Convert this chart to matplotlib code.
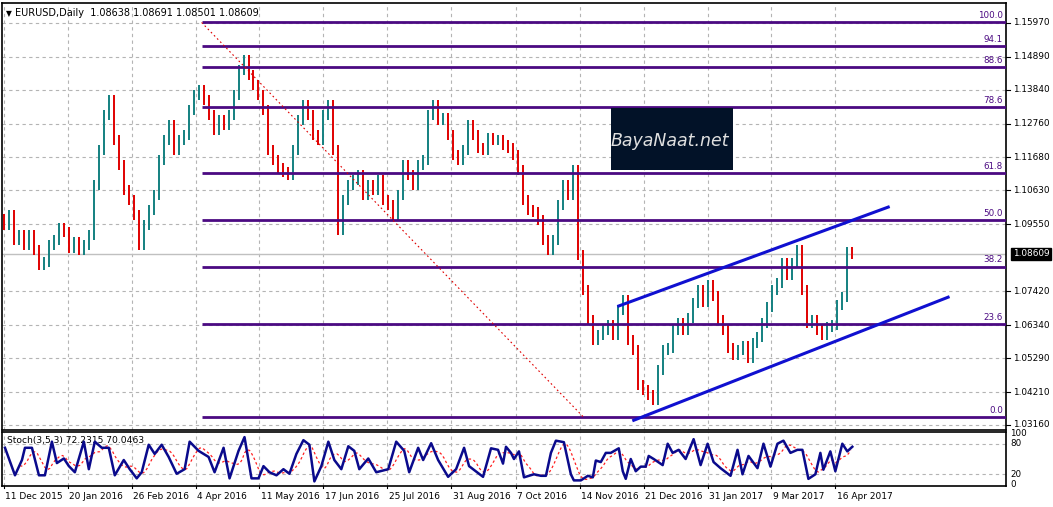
import matplotlib
matplotlib.use("Agg")
import matplotlib.pyplot as plt
import numpy as np
from matplotlib.patches import Rectangle

closes = [1.0953,1.0985,1.0905,1.0921,1.0889,1.0921,1.0873,1.0825,1.0835,1.0889,
1.0905,1.0943,1.0931,1.0880,1.0899,1.0873,1.0889,1.0921,1.1080,1.1192,
1.1303,1.1351,1.1224,1.1144,1.1064,1.1033,1.0985,1.0889,1.0953,1.1001,
1.1049,1.1160,1.1224,1.1272,1.1192,1.1224,1.1240,1.1319,1.1367,1.1383,
1.1351,1.1303,1.1256,1.1288,1.1272,1.1303,1.1367,1.1447,1.1479,1.1431,
1.1399,1.1367,1.1319,1.1192,1.1160,1.1135,1.1122,1.1112,1.1192,1.1288,
1.1335,1.1303,1.1240,1.1224,1.1303,1.1335,1.1192,1.0937,1.1033,1.1080,
1.1096,1.1112,1.1049,1.1080,1.1064,1.1096,1.1033,1.1017,1.0985,1.1049,
1.1144,1.1112,1.1080,1.1144,1.1160,1.1303,1.1335,1.1288,1.1294,1.1240,
1.1176,1.1160,1.1192,1.1272,1.1240,1.1198,1.1192,1.1230,1.1224,1.1224,
1.1208,1.1198,1.1176,1.1128,1.1033,1.1001,1.0994,1.0969,1.0905,1.0873,
1.0905,1.1017,1.1080,1.1049,1.1128,1.0857,1.0746,1.0650,1.0586,1.0602,
1.0618,1.0634,1.0602,1.0682,1.0714,1.0586,1.0555,1.0443,1.0427,1.0411,
1.0395,1.0491,1.0555,1.0561,1.0618,1.0641,1.0618,1.0657,1.0704,1.0746,
1.0708,1.0762,1.0727,1.0650,1.0618,1.0561,1.0539,1.0555,1.0570,1.0529,
1.0577,1.0596,1.0641,1.0692,1.0746,1.0768,1.0832,1.0794,1.0832,1.0873,
1.0746,1.0641,1.0650,1.0618,1.0602,1.0628,1.0634,1.0698,1.0723,1.0867,
1.08609]
price_ticks = [1.15970,1.14890,1.13840,1.12760,1.11680,1.10630,1.09550,
               1.07420,1.06340,1.05290,1.04210,1.03160]
last_price = 1.08609
fib_low, fib_high = 1.0340, 1.1598
fib_levels = [100.0, 94.1, 88.6, 78.6, 61.8, 50.0, 38.2, 23.6, 0.0]
fib_start_bar = 39.6
diag = [(39.6, 1.1598), (116.2, 1.0340)]
channel_upper = [(123.2, 1.0695), (177.2, 1.1010)]
channel_lower = [(126.2, 1.0331), (189.2, 1.0723)]
date_bars = [0, 12.8, 25.6, 38.4, 51.2, 64, 76.8, 89.6, 102.6, 115.4, 128.2, 141, 153.8, 166.6]
date_labels = ["11 Dec 2015","20 Jan 2016","26 Feb 2016","4 Apr 2016","11 May 2016",
               "17 Jun 2016","25 Jul 2016","31 Aug 2016","7 Oct 2016","14 Nov 2016",
               "21 Dec 2016","31 Jan 2017","9 Mar 2017","16 Apr 2017"]
stoch_px = [3,13,20,23,30,37,43,50,55,62,67,73,82,87,93,100,107,113,122,128,135,140,147,153,160,167,
175,183,188,197,207,213,222,228,237,243,250,257,262,268,275,282,288,295,302,308,313,320,327,333,
340,347,353,358,367,375,387,395,403,408,417,422,430,437,447,455,463,468,482,490,497,502,505,510,
513,518,523,533,540,545,550,555,563,570,573,580,587,592,595,600,605,610,618,622,625,630,635,640,
645,648,653,662,667,672,678,685,693,700,707,713,720,730,737,742,748,757,763,770,777,783,790,797,
802,808,815,820,823,830,835,842,847,852]
stoch_k = [72,18,48,72,72,18,18,84,42,51,36,24,84,30,84,72,72,18,48,30,12,24,78,60,78,54,
21,30,84,66,54,24,72,12,66,93,12,12,36,24,18,30,21,60,87,78,6,36,84,48,
30,75,66,30,51,24,30,84,66,24,72,48,81,48,15,30,72,36,15,71,68,41,74,62,
50,65,14,20,17,17,62,86,83,20,8,8,17,14,47,44,62,62,71,26,11,50,26,35,
35,56,50,38,80,62,68,50,89,38,80,44,32,17,68,20,56,32,80,35,80,86,62,68,
68,11,20,62,29,65,26,80,65,74]

def px2bar(p):
    return (p - 2) / 5.0

W, H = 1053, 507
fig = plt.figure(figsize=(W/100, H/100), dpi=100)
fig.patch.set_facecolor("white")
ax = fig.add_axes([2/W, 1-430/H, 1004/W, 427/H])
ax2 = fig.add_axes([2/W, 1-486/H, 1004/W, 54/H])
xl = (px2bar(0), px2bar(1006))

grid_kw = dict(color="#b4b4b4", ls=(0, (3, 3)), lw=0.8, zorder=0)
for a in (ax, ax2):
    a.set_xlim(*xl)
    for b in date_bars:
        a.axvline(b, **grid_kw)
    a.set_xticks([]); a.set_yticks([])
    for s in a.spines.values():
        s.set_linewidth(1.2); s.set_color("black")

ax.set_ylim(1.0300, 1.1660)
yt = ax.get_yaxis_transform()
for p in price_ticks:
    ax.axhline(p, **grid_kw)
    ax.plot([1.0, 1.004], [p, p], transform=yt, color="black", lw=0.8, clip_on=False)
    ax.text(1.007, p, f"{p:.5f}", transform=yt,
            va="center", ha="left", fontsize=6.4, clip_on=False)
ax.axhline(last_price, color="#c0c0c0", lw=1, zorder=1)
ax.text(1.007, last_price, f"{last_price:.5f}", transform=yt,
        va="center", ha="left", fontsize=6.4, color="white", clip_on=False,
        bbox=dict(boxstyle="square,pad=0.2", fc="black", ec="black"))

# bars
c = np.array(closes)
prev = np.concatenate([[c[0] + 0.002], c[:-1]])
idx = np.arange(len(c))
lo = np.minimum(prev, c) - 0.0015
hi = np.maximum(prev, c) + 0.0015
cols = np.where(c >= prev, "#138080", "#e00000")
ax.vlines(idx, lo, hi, colors=cols, lw=1.4, zorder=3)

# fib
rng = fib_high - fib_low
for f in fib_levels:
    y = fib_low + f / 100 * rng
    ax.plot([fib_start_bar, xl[1]], [y, y], color="#4b0a82", lw=2, zorder=4, solid_capstyle="butt")
    ax.text(px2bar(1003), y + 0.0007, f"{f:.1f}", ha="right", va="bottom",
            fontsize=6.3, color="#4b0a82", zorder=5)
ax.plot([diag[0][0], diag[1][0]], [diag[0][1], diag[1][1]], color="#e00000", lw=0.8,
        ls=(0, (1.5, 2.5)), zorder=4)
for ln in (channel_upper, channel_lower):
    ax.plot([ln[0][0], ln[1][0]], [ln[0][1], ln[1][1]], color="#1010d0", lw=2.2, zorder=5)

ax.text(0.004, 0.985, "\u25BC", transform=ax.transAxes, fontsize=5.5, va="top", ha="left")
ax.text(0.013, 0.988, "EURUSD,Daily  1.08638 1.08691 1.08501 1.08609", transform=ax.transAxes,
        fontsize=7.0, va="top", ha="left")

# logo
fig.patches.append(Rectangle((611/W, 1-170/H), 122/W, 62/H, transform=fig.transFigure,
                             fc="#021228", ec="none", zorder=10))
fig.text(670/W, 1-141/H, "BayaNaat.net", color="#e0e0e0", fontsize=12.5, style="italic",
         ha="center", va="center", zorder=11, family="DejaVu Sans")

# stochastic
ax2.set_ylim(-3, 103)
for v in (80, 20):
    ax2.axhline(v, **grid_kw)
sx = px2bar(np.array(stoch_px))
k = np.array(stoch_k, float)
fx = np.arange(sx[0], sx[-1], 0.5)
fk = np.interp(fx, sx, k)
win = 6
fd = np.convolve(fk, np.ones(win) / win, mode="full")[:len(fk)]
fd[:win] = fk[:win]
ax2.plot(fx, fd, color="#ff2020", lw=0.9, ls=(0, (2, 2)), zorder=3)
ax2.plot(sx, k, color="#0a0a8c", lw=1.8, zorder=4)
ax2.text(0.005, 0.93, "Stoch(3,5,3) 72.2315 70.0463", transform=ax2.transAxes,
         fontsize=6.6, va="top", ha="left")
for v, lab in ((100, "100"), (80, "80"), (20, "20"), (0, "0")):
    ax2.text(1.004, v, lab, transform=ax2.get_yaxis_transform(), fontsize=6.3,
             va="center", ha="left", clip_on=False)

for b, lab in zip(date_bars, date_labels):
    ax2.text(b + 0.3, -0.12, lab, transform=ax2.get_xaxis_transform(), fontsize=6.5,
             va="top", ha="left", clip_on=False)
    ax2.plot([b, b], [-0.04, 0], transform=ax2.get_xaxis_transform(), color="black",
             lw=0.8, clip_on=False)

fig.savefig("out.png", dpi=100)
